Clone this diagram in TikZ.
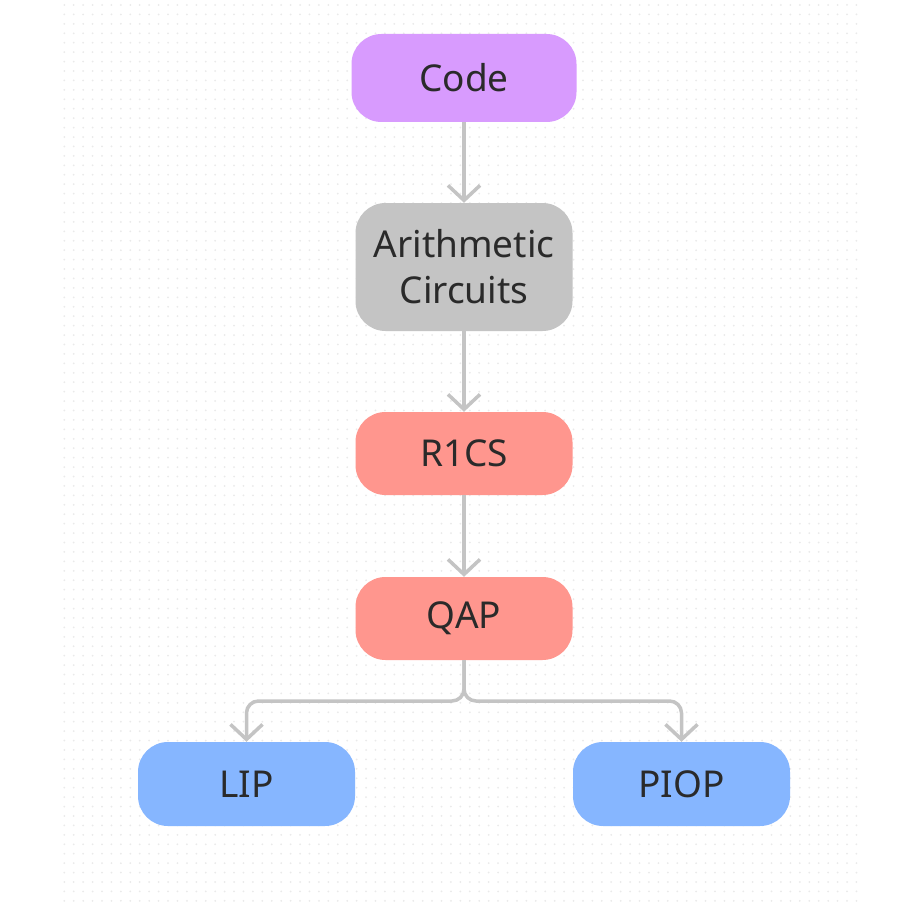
\documentclass[tikz,border=0pt]{standalone}
\usepackage{fontspec}
\setmainfont{Noto Sans}
\usetikzlibrary{arrows.meta}
\definecolor{codec}{HTML}{D89BFE}
\definecolor{grayc}{HTML}{C4C4C4}
\definecolor{salmon}{HTML}{FF968E}
\definecolor{bluec}{HTML}{86B6FF}
\definecolor{txt}{HTML}{2A2A2A}
\definecolor{linec}{HTML}{C4C4C4}
\definecolor{dotc}{HTML}{EAEAEA}
\tikzset{
  box/.style={rounded corners=30pt, minimum width=217pt, minimum height=84pt,
    inner sep=0pt, align=center, text=txt, font=\fontsize{37}{46}\selectfont},
  conn/.style={draw=linec, line width=3.5pt, rounded corners=12pt,
    -{Straight Barb[length=15pt,width=32pt,line width=3.5pt]}},
}
\begin{document}
\begin{tikzpicture}[x=1pt,y=-1pt]
\useasboundingbox (0,0) rectangle (902,904);
\fill[white] (0,0) rectangle (902,904);
% dotted background
\foreach \r in {0,...,95}{
  \draw[dotc, line width=2pt, line cap=round, dash pattern=on 0pt off 9.43pt]
    (64.3,{5+\r*9.43}) -- (860,{5+\r*9.43});
}
\node[box, fill=codec, minimum width=225pt, minimum height=88pt] (code) at (464,78) {Code};
\node[box, fill=grayc, minimum height=128pt] (arith) at (464,267) {Arithmetic\\Circuits};
\node[box, fill=salmon, minimum height=83pt] (r1cs) at (464,453.5) {R1CS};
\node[box, fill=salmon, minimum height=83pt] (qap) at (464,618.5) {QAP};
\node[box, fill=bluec] (lip) at (246.5,784) {LIP};
\node[box, fill=bluec] (piop) at (681.5,784) {PIOP};
\coordinate (split) at (464,701);
\draw[conn] (code) -- (arith);
\draw[conn] (arith) -- (r1cs);
\draw[conn] (r1cs) -- (qap);
\draw[conn] (qap.south) -- (split) -| (lip.north);
\draw[conn] (qap.south) -- (split) -| (piop.north);
\end{tikzpicture}
\end{document}
